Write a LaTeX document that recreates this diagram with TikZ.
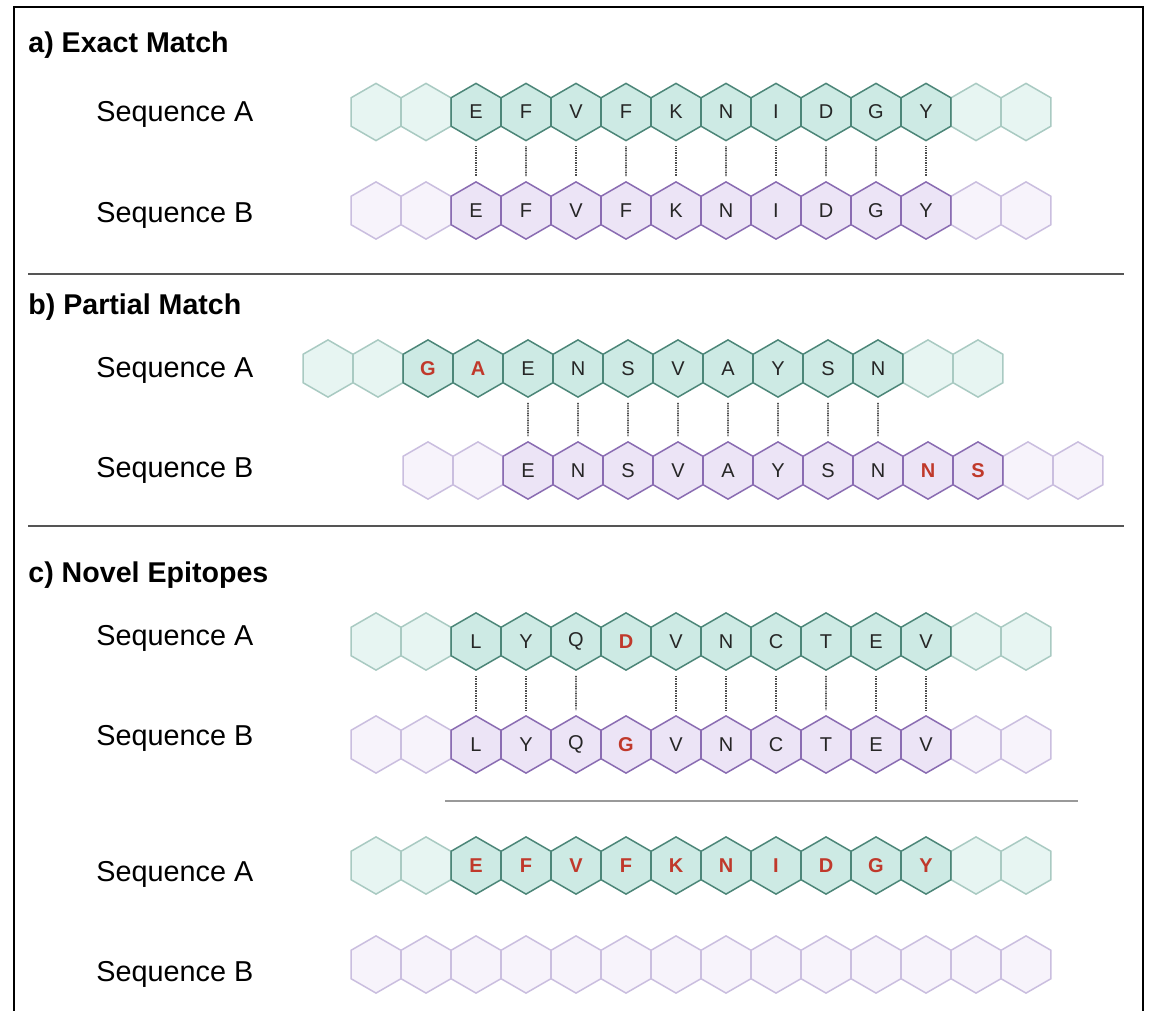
\documentclass[tikz,border=0pt]{standalone}
\usepackage{fontspec}
\setmainfont{Liberation Sans}
\usetikzlibrary{shapes.geometric}
\definecolor{tealfill}{HTML}{CDEAE4}
\definecolor{tealline}{HTML}{4C8678}
\definecolor{tealffill}{HTML}{E7F5F2}
\definecolor{tealfline}{HTML}{A9CAC2}
\definecolor{purfill}{HTML}{ECE4F6}
\definecolor{purline}{HTML}{8A6CB2}
\definecolor{purffill}{HTML}{F7F3FB}
\definecolor{purfline}{HTML}{CABEDF}
\definecolor{redtxt}{HTML}{C0392B}
\definecolor{sepdark}{HTML}{555555}
\definecolor{seplight}{HTML}{999999}
\newcommand\R[1]{\textcolor{redtxt}{\bfseries #1}}
\newcommand\hexrow[5]{%
  \foreach \i in {1,2,13,14}
    \node[#4faded] (#1\i) at ({#2+50*(\i-1)},#3) {};
  \foreach \l [count=\i from 3] in {#5}
    \node[#4] (#1\i) at ({#2+50*(\i-1)},#3) {\l};
}
\tikzset{
  hexbase/.style={regular polygon, regular polygon sides=6, shape border rotate=30,
    minimum size=28.6pt, inner sep=0pt, line width=0.75pt,
    font=\fontsize{10}{12}\selectfont, text=black!85},
  teal/.style={hexbase, draw=tealline, fill=tealfill},
  tealfaded/.style={hexbase, draw=tealfline, fill=tealffill},
  purple/.style={hexbase, draw=purline, fill=purfill},
  purplefaded/.style={hexbase, draw=purfline, fill=purffill},
  seqlabel/.style={anchor=base west, inner sep=0pt, font=\fontsize{14.4}{17}\selectfont},
  title/.style={anchor=base west, inner sep=0pt, font=\fontsize{14.3}{17}\selectfont\bfseries},
  dotlink/.style={draw=sepdark!90!black, line width=0.95pt, dash pattern=on 0.45pt off 0.4pt,
    shorten <=2.5pt, shorten >=2.5pt},
  sectionrule/.style={draw=sepdark, line width=1pt},
  innerrule/.style={draw=seplight, line width=1pt},
}
\begin{document}
\begin{tikzpicture}[x=0.5pt, y=-0.5pt]
\useasboundingbox (0,0) rectangle (1152,1011);
\fill[white] (0,0) rectangle (1152,1011);
% frame
\draw[line width=1.25pt] (14,1020) -- (14,7) -- (1143,7) -- (1143,1020);
% section rules
\draw[sectionrule] (28,274) -- (1124,274);
\draw[sectionrule] (28,526) -- (1124,526);
\draw[innerrule] (445,801) -- (1078,801);
% titles
\node[title] (ta) at (28,53) {a) Exact Match};
\node[title] (tb) at (28,314) {b) Partial Match};
\node[title] (tc) at (28,582) {c) Novel Epitopes};
% labels
\node[seqlabel] (la1) at (96,122) {Sequence A};
\node[seqlabel] (lb1) at (96,222) {Sequence B};
\node[seqlabel] (la2) at (96,377) {Sequence A};
\node[seqlabel] (lb2) at (96,477) {Sequence B};
\node[seqlabel] (la3) at (96,645) {Sequence A};
\node[seqlabel] (lb3) at (96,745) {Sequence B};
\node[seqlabel] (la4) at (96,881) {Sequence A};
\node[seqlabel] (lb4) at (96,981) {Sequence B};
% a) exact match
\hexrow{aA}{376}{112}{teal}{E,F,V,F,K,N,I,D,G,Y}
\hexrow{aB}{376}{210.5}{purple}{E,F,V,F,K,N,I,D,G,Y}
\foreach \i in {3,...,12} \draw[dotlink] (aA\i) -- (aB\i);
% b) partial match
\hexrow{bA}{328}{368.5}{teal}{\R{G},\R{A},E,N,S,V,A,Y,S,N}
\hexrow{bB}{428}{470.5}{purple}{E,N,S,V,A,Y,S,N,\R{N},\R{S}}
\foreach \i [evaluate=\i as \j using int(\i-2)] in {5,...,12} \draw[dotlink] (bA\i) -- (bB\j);
% c) novel epitopes
\hexrow{cA}{376}{641.5}{teal}{L,Y,Q,\R{D},V,N,C,T,E,V}
\hexrow{cB}{376}{744.5}{purple}{L,Y,Q,\R{G},V,N,C,T,E,V}
\foreach \i in {3,4,5,7,8,9,10,11,12} \draw[dotlink] (cA\i) -- (cB\i);
\hexrow{dA}{376}{865.5}{teal}{\R{E},\R{F},\R{V},\R{F},\R{K},\R{N},\R{I},\R{D},\R{G},\R{Y}}
\foreach \i in {1,...,14}
  \node[purplefaded] (dB\i) at ({376+50*(\i-1)},964.5) {};
\end{tikzpicture}
\end{document}
